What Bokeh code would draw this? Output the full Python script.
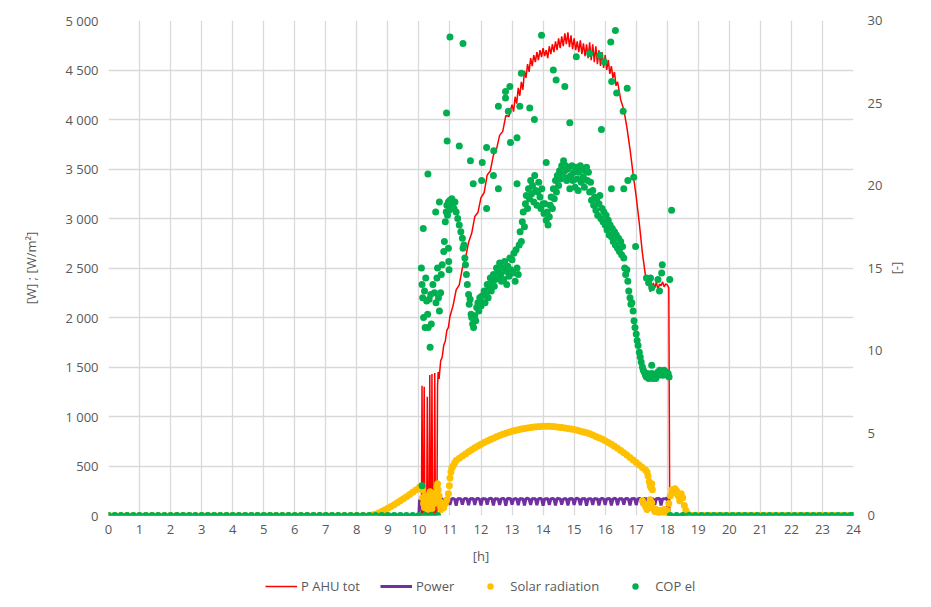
from bokeh.plotting import figure
from bokeh.layouts import column
from bokeh.models import Range1d, LinearAxis, FixedTicker, Legend, LegendItem
from bokeh.embed import file_html
from bokeh.resources import INLINE

# ---------------- data ----------------
hour_ticks = list(range(0, 25))
left_ticks = [0, 500, 1000, 1500, 2000, 2500, 3000, 3500, 4000, 4500, 5000]
left_tick_labels = ["0", "500", "1 000", "1 500", "2 000", "2 500", "3 000", "3 500", "4 000", "4 500", "5 000"]
right_ticks = [0, 5, 10, 15, 20, 25, 30]
series_names = ["P AHU tot", "Power", "Solar radiation", "COP el"]

# P AHU tot [W] (hour, value)
p_ahu_tot = [
    (0.0, 0), (10.0, 0), (10.08, 0), (10.1, 1310), (10.12, 0), (10.15, 0), (10.17, 1300), (10.19, 0),
    (10.25, 0), (10.27, 1200), (10.29, 0), (10.33, 0), (10.35, 1420), (10.37, 0), (10.4, 0), (10.42, 1430),
    (10.44, 0), (10.49, 0), (10.51, 1440), (10.53, 0), (10.58, 0), (10.6, 1300), (10.62, 1450), (10.65, 1380),
    (10.7, 1560), (10.75, 1600), (10.8, 1720), (10.85, 1760), (10.9, 1870), (10.95, 1900), (11.0, 2010),
    (11.1, 2120), (11.2, 2280), (11.3, 2330), (11.4, 2500), (11.5, 2600), (11.6, 2760), (11.7, 2850),
    (11.8, 3020), (11.9, 3060), (12.0, 3210), (12.1, 3260), (12.2, 3440), (12.3, 3480), (12.4, 3640),
    (12.5, 3700), (12.6, 3840), (12.7, 3880), (12.8, 4040), (12.9, 4030),
    (13.0, 4150), (13.05, 4080), (13.1, 4230), (13.15, 4160), (13.2, 4320), (13.25, 4240), (13.3, 4380),
    (13.35, 4300), (13.4, 4490), (13.45, 4420), (13.5, 4560), (13.55, 4480), (13.6, 4620), (13.65, 4540),
    (13.7, 4650), (13.75, 4580), (13.8, 4680), (13.85, 4600), (13.9, 4700), (13.95, 4630), (14.0, 4720),
    (14.05, 4640), (14.1, 4700), (14.15, 4620), (14.2, 4740), (14.25, 4660), (14.3, 4760), (14.35, 4680),
    (14.4, 4790), (14.45, 4700), (14.5, 4820), (14.55, 4720), (14.6, 4840), (14.65, 4740), (14.7, 4870),
    (14.75, 4760), (14.8, 4880), (14.85, 4730), (14.9, 4850), (14.95, 4710), (15.0, 4820), (15.05, 4700),
    (15.1, 4790), (15.15, 4680), (15.2, 4800), (15.25, 4660), (15.3, 4770), (15.35, 4640), (15.4, 4760),
    (15.45, 4620), (15.5, 4780), (15.55, 4600), (15.6, 4760), (15.65, 4580), (15.7, 4740), (15.75, 4560),
    (15.8, 4700), (15.85, 4540), (15.9, 4680), (15.95, 4520), (16.0, 4650), (16.05, 4500), (16.1, 4600),
    (16.15, 4460), (16.2, 4540), (16.25, 4420), (16.3, 4480), (16.35, 4340), (16.4, 4380),
    (16.5, 4200), (16.6, 4100), (16.7, 3920), (16.8, 3700), (16.9, 3450), (17.0, 3220), (17.1, 2950),
    (17.2, 2650), (17.3, 2420), (17.35, 2330), (17.4, 2380), (17.45, 2260), (17.5, 2290), (17.55, 2350),
    (17.6, 2300), (17.65, 2360), (17.7, 2280), (17.75, 2340), (17.8, 2320), (17.85, 2360), (17.9, 2310),
    (17.95, 2340), (18.0, 2330), (18.05, 2300), (18.08, 0), (24.0, 0),
]

# Power [W]
power = [
    (0.0, 0), (10.0, 0), (10.02, 160), (10.05, 60), (10.1, 150), (10.15, 80), (10.2, 140), (10.25, 90),
    (10.3, 150), (10.35, 100), (10.4, 160), (10.45, 90), (10.5, 140), (10.55, 100), (10.6, 160),
    (10.65, 165), (10.70, 172), (10.75, 168), (10.80, 102), (10.85, 170), (10.90, 166), (10.95, 174), (11.00, 108),
    (11.05, 168), (11.10, 171), (11.15, 165), (11.20, 100), (11.25, 172), (11.30, 169), (11.35, 170), (11.40, 110),
    (11.45, 166), (11.50, 173), (11.55, 168), (11.60, 104), (11.65, 171), (11.70, 167), (11.75, 174), (11.80, 106),
    (11.85, 169), (11.90, 172), (11.95, 166), (12.00, 101), (12.05, 173), (12.10, 168), (12.15, 170), (12.20, 109),
    (12.25, 167), (12.30, 174), (12.35, 169), (12.40, 103), (12.45, 172), (12.50, 166), (12.55, 171), (12.60, 107),
    (12.65, 168), (12.70, 173), (12.75, 167), (12.80, 100), (12.85, 174), (12.90, 169), (12.95, 172), (13.00, 110),
    (13.05, 166), (13.10, 171), (13.15, 168), (13.20, 105), (13.25, 173), (13.30, 167), (13.35, 170), (13.40, 102),
    (13.45, 169), (13.50, 174), (13.55, 166), (13.60, 108), (13.65, 172), (13.70, 168), (13.75, 171), (13.80, 104),
    (13.85, 167), (13.90, 173), (13.95, 169), (14.00, 100), (14.05, 171), (14.10, 166), (14.15, 174), (14.20, 107),
    (14.25, 168), (14.30, 172), (14.35, 167), (14.40, 103), (14.45, 174), (14.50, 169), (14.55, 170), (14.60, 109),
    (14.65, 166), (14.70, 171), (14.75, 168), (14.80, 101), (14.85, 173), (14.90, 167), (14.95, 172), (15.00, 106),
    (15.05, 169), (15.10, 174), (15.15, 166), (15.20, 104), (15.25, 171), (15.30, 168), (15.35, 173), (15.40, 100),
    (15.45, 167), (15.50, 170), (15.55, 169), (15.60, 108), (15.65, 174), (15.70, 166), (15.75, 171), (15.80, 103),
    (15.85, 168), (15.90, 172), (15.95, 167), (16.00, 107), (16.05, 170), (16.10, 169), (16.15, 173), (16.20, 101),
    (16.25, 166), (16.30, 174), (16.35, 168), (16.40, 105), (16.45, 172), (16.50, 167), (16.55, 171), (16.60, 110),
    (16.65, 169), (16.70, 173), (16.75, 166), (16.80, 102), (16.85, 171), (16.90, 168), (16.95, 174), (17.00, 106),
    (17.05, 167), (17.10, 172), (17.15, 169), (17.20, 100), (17.25, 173), (17.30, 166), (17.35, 170), (17.40, 104),
    (17.45, 168), (17.50, 171), (17.55, 167), (17.60, 108), (17.65, 172), (17.70, 169), (17.75, 174), (17.80, 103),
    (17.85, 170), (17.90, 168), (17.95, 171), (18.00, 175), (18.02, 0), (24.0, 0),
]

# Solar radiation [W/m2]
solar_day = [
    (8.5, 5), (8.6, 12), (8.7, 25), (8.8, 40), (8.9, 55), (9.0, 72), (9.1, 90), (9.2, 108), (9.3, 128),
    (9.4, 150), (9.5, 170), (9.6, 190), (9.7, 212), (9.8, 235), (9.9, 258), (10.0, 280), (10.05, 295),
    (10.1, 260), (10.12, 180), (10.15, 120), (10.18, 80), (10.2, 200), (10.22, 140), (10.25, 90), (10.28, 60),
    (10.3, 110), (10.33, 180), (10.36, 240), (10.38, 150), (10.4, 100), (10.42, 70), (10.45, 130), (10.48, 200),
    (10.5, 120), (10.52, 170), (10.55, 230), (10.58, 290), (10.6, 320), (10.62, 260), (10.65, 200), (10.68, 140),
    (10.7, 90), (10.72, 60), (10.75, 100), (10.8, 80), (10.85, 120), (10.9, 160), (10.95, 220), (10.98, 300),
    (11.0, 380), (11.03, 440), (11.06, 480),
    (11.1, 500), (11.15, 530), (11.2, 555), (11.3, 578), (11.4, 600), (11.5, 622), (11.6, 645), (11.7, 665),
    (11.8, 685), (11.9, 703), (12.0, 720), (12.1, 737), (12.2, 752), (12.3, 767), (12.4, 781), (12.5, 795),
    (12.6, 808), (12.7, 820), (12.8, 831), (12.9, 841), (13.0, 850), (13.1, 858), (13.2, 866), (13.3, 873),
    (13.4, 879), (13.5, 885), (13.6, 890), (13.7, 894), (13.8, 897), (13.9, 899), (14.0, 901), (14.1, 902),
    (14.2, 901), (14.3, 899), (14.4, 896), (14.5, 892), (14.6, 888), (14.7, 884), (14.8, 879), (14.9, 874),
    (15.0, 868), (15.1, 860), (15.2, 852), (15.3, 844), (15.4, 835), (15.5, 825), (15.6, 812), (15.7, 798),
    (15.8, 785), (15.9, 772), (16.0, 755), (16.1, 738), (16.2, 720), (16.3, 700), (16.4, 680), (16.5, 657),
    (16.6, 635), (16.7, 610), (16.8, 585), (16.9, 560), (17.0, 535), (17.1, 510), (17.2, 485), (17.3, 460),
    (17.35, 440), (17.38, 400), (17.42, 340), (17.45, 300), (17.48, 280), (17.5, 320), (17.52, 260),
    (17.2, 150), (17.25, 120), (17.3, 90), (17.35, 60), (17.4, 110), (17.45, 160), (17.5, 130), (17.55, 70),
    (17.6, 40), (17.65, 60), (17.7, 30), (17.75, 50), (17.8, 20), (17.85, 40), (17.9, 60), (17.95, 30),
    (18.0, 50), (18.05, 120), (18.1, 200), (18.15, 260), (18.2, 230), (18.25, 270), (18.3, 250), (18.35, 200),
    (18.4, 150), (18.45, 220), (18.5, 180), (18.55, 100), (18.6, 50), (18.65, 20), (18.7, 5),
]
solar_night_h = [
    0.0, 0.2, 0.4, 0.6, 0.8, 1.0, 1.2, 1.4, 1.6, 1.8, 2.0, 2.2, 2.4, 2.6, 2.8, 3.0, 3.2, 3.4, 3.6, 3.8,
    4.0, 4.2, 4.4, 4.6, 4.8, 5.0, 5.2, 5.4, 5.6, 5.8, 6.0, 6.2, 6.4, 6.6, 6.8, 7.0, 7.2, 7.4, 7.6, 7.8,
    8.0, 8.2, 8.4,
    18.8, 19.0, 19.2, 19.4, 19.6, 19.8, 20.0, 20.2, 20.4, 20.6, 20.8, 21.0, 21.2, 21.4, 21.6, 21.8,
    22.0, 22.2, 22.4, 22.6, 22.8, 23.0, 23.2, 23.4, 23.6, 23.8, 24.0,
]

# COP el [-]  (right axis)
cop_band = [
    (10.08, 15.0), (10.1, 14.0), (10.12, 13.2), (10.15, 12.0), (10.18, 13.6), (10.2, 11.4), (10.22, 14.4),
    (10.25, 13.0), (10.28, 12.2), (10.3, 11.4), (10.33, 13.1), (10.36, 10.2), (10.38, 13.4), (10.4, 11.6),
    (10.45, 14.0), (10.5, 13.5), (10.55, 12.9), (10.58, 14.4), (10.6, 15.0), (10.63, 13.2), (10.66, 12.4),
    (10.7, 13.5), (10.72, 14.6), (10.75, 15.2), (10.8, 16.0), (10.82, 16.6), (10.85, 17.8), (10.88, 18.4),
    (10.9, 18.8), (10.92, 18.2), (10.95, 19.0), (10.98, 18.5), (11.0, 19.1), (11.03, 18.7), (11.06, 19.2),
    (11.1, 18.9), (11.13, 18.6), (11.16, 19.0), (11.2, 18.4), (11.25, 18.0), (11.3, 17.6), (11.35, 17.2),
    (11.4, 16.8), (11.42, 16.2), (11.45, 16.4), (11.48, 15.6), (11.5, 15.2), (11.53, 14.6), (11.56, 14.0),
    (11.6, 13.4), (11.62, 12.8), (11.65, 13.1), (11.68, 12.2), (11.7, 12.0), (11.73, 11.6), (11.76, 11.4),
    (11.8, 12.1), (11.83, 11.8), (11.86, 12.6), (11.9, 12.9), (11.93, 12.4), (11.96, 13.2), (12.0, 12.7),
    (12.03, 13.3), (12.06, 12.9), (12.1, 13.6), (12.13, 12.9), (12.16, 13.4), (12.2, 14.0), (12.23, 13.2),
    (12.26, 13.8), (12.3, 14.4), (12.33, 13.6), (12.36, 14.1), (12.4, 14.6), (12.43, 13.9), (12.46, 14.3),
    (12.5, 15.0), (12.53, 14.4), (12.56, 14.8), (12.6, 15.3), (12.63, 14.6), (12.66, 14.2), (12.7, 15.0),
    (12.73, 14.3), (12.76, 15.4), (12.8, 14.8), (12.83, 14.0), (12.86, 15.1), (12.9, 14.5), (12.93, 15.6),
    (12.96, 14.9), (13.0, 15.5), (13.03, 14.7), (13.06, 15.9), (13.1, 14.2), (13.13, 16.1), (13.16, 15.0),
    (13.2, 14.6), (13.23, 16.4), (13.26, 17.2), (13.3, 16.6), (13.33, 17.8), (13.36, 18.4), (13.4, 17.5),
    (13.43, 18.9), (13.46, 19.4), (13.5, 18.6), (13.53, 19.8), (13.56, 19.2), (13.6, 20.3), (13.63, 19.5),
    (13.66, 20.0), (13.7, 19.0), (13.73, 20.6), (13.76, 19.7), (13.8, 18.8), (13.83, 19.6), (13.86, 20.2),
    (13.9, 19.3), (13.93, 18.6), (13.96, 19.8), (14.0, 18.9), (14.03, 18.3), (14.06, 18.9), (14.1, 17.9),
    (14.13, 18.4), (14.16, 17.6), (14.2, 18.1), (14.23, 18.8), (14.26, 19.3), (14.3, 18.6), (14.33, 19.8),
    (14.36, 19.2), (14.4, 20.3), (14.43, 19.6), (14.46, 20.6), (14.5, 20.0), (14.53, 20.9), (14.56, 20.4),
    (14.6, 21.2), (14.63, 20.6), (14.66, 21.5), (14.7, 20.9), (14.73, 21.2), (14.76, 20.3), (14.8, 21.0),
    (14.83, 20.5), (14.86, 19.8), (14.9, 20.6), (14.93, 21.2), (14.96, 20.3), (15.0, 20.8), (15.03, 19.9),
    (15.06, 21.1), (15.1, 20.4), (15.13, 19.7), (15.16, 20.8), (15.2, 21.2), (15.23, 20.2), (15.26, 21.0),
    (15.3, 20.5), (15.33, 19.9), (15.36, 20.9), (15.4, 21.1), (15.43, 20.3), (15.46, 20.8), (15.5, 19.6),
    (15.53, 20.2), (15.56, 19.1), (15.6, 19.7), (15.63, 18.8), (15.66, 19.3), (15.7, 18.5), (15.73, 19.2),
    (15.76, 18.2), (15.8, 18.9), (15.83, 19.4), (15.86, 18.0), (15.9, 18.6), (15.93, 17.8), (15.96, 18.4),
    (16.0, 17.6), (16.03, 18.2), (16.06, 17.3), (16.1, 17.9), (16.13, 17.0), (16.16, 17.6), (16.2, 16.9),
    (16.23, 17.4), (16.26, 16.6), (16.3, 17.2), (16.33, 16.4), (16.36, 17.0), (16.4, 16.2), (16.43, 16.8),
    (16.46, 16.0), (16.5, 16.6), (16.53, 15.8), (16.56, 16.3), (16.6, 15.6), (16.63, 15.0), (16.66, 14.6),
    (16.7, 14.9), (16.73, 14.2), (16.76, 13.6), (16.8, 13.2), (16.83, 12.8), (16.86, 12.9), (16.9, 12.4),
    (16.93, 11.8), (16.96, 11.4), (17.0, 11.0), (17.03, 10.6), (17.06, 10.3), (17.1, 9.9), (17.13, 9.6),
    (17.16, 9.3), (17.2, 9.0), (17.23, 8.8), (17.26, 8.7), (17.3, 8.5), (17.33, 8.4), (17.36, 8.6),
    (17.4, 8.3), (17.43, 8.5), (17.46, 8.4), (17.5, 8.6), (17.53, 8.3), (17.56, 8.5), (17.6, 8.4),
    (17.63, 8.3), (17.66, 8.6), (17.7, 8.7), (17.73, 8.5), (17.76, 8.8), (17.8, 8.6), (17.83, 8.7),
    (17.86, 8.5), (17.9, 8.8), (17.93, 8.6), (17.96, 8.7), (18.0, 8.5), (18.03, 8.6), (18.06, 8.4),
]
cop_scatter = [
    (10.1, 1.8), (10.14, 17.4), (10.29, 20.7), (10.54, 18.4), (10.66, 19.0), (10.89, 24.4), (10.91, 22.7),
    (10.95, 16.2), (10.96, 15.4), (10.97, 14.9), (11.0, 29.0), (11.42, 28.6), (11.3, 22.4), (11.66, 21.5),
    (11.75, 20.1), (12.02, 20.3), (12.04, 21.4), (12.18, 22.3), (12.18, 18.6), (12.4, 20.6), (12.41, 22.1),
    (12.56, 24.8), (12.56, 19.8), (12.79, 25.3), (12.79, 25.7), (12.88, 24.5), (12.93, 26.0), (12.95, 22.6),
    (13.16, 22.9), (13.16, 20.1), (13.25, 24.8), (13.3, 26.8), (13.57, 24.7), (13.72, 24.0), (13.95, 29.1),
    (14.1, 21.4), (14.33, 27.0), (14.42, 26.4), (14.7, 26.0), (14.86, 23.8), (15.07, 27.8), (15.5, 28.0),
    (15.83, 27.9), (15.88, 23.4), (15.97, 27.5), (16.18, 28.7), (16.2, 19.8), (16.21, 26.3), (16.33, 29.4),
    (16.37, 25.6), (16.58, 24.5), (16.6, 19.8), (16.71, 25.9), (16.73, 20.3), (16.92, 20.5), (16.98, 16.3),
    (17.33, 14.4), (17.4, 14.1), (17.46, 14.4), (17.5, 13.8), (17.5, 9.1), (17.7, 14.3), (17.75, 13.6),
    (17.82, 14.7), (17.84, 15.2), (18.08, 14.3), (18.14, 18.5),
]
cop_night_h = [
    0.0, 0.2, 0.4, 0.6, 0.8, 1.0, 1.2, 1.4, 1.6, 1.8, 2.0, 2.2, 2.4, 2.6, 2.8, 3.0, 3.2, 3.4, 3.6, 3.8,
    4.0, 4.2, 4.4, 4.6, 4.8, 5.0, 5.2, 5.4, 5.6, 5.8, 6.0, 6.2, 6.4, 6.6, 6.8, 7.0, 7.2, 7.4, 7.6, 7.8,
    8.0, 8.2, 8.4, 8.6, 8.8, 9.0, 9.2, 9.4, 9.6, 9.8, 10.0, 10.2, 10.4, 10.6,
    18.1, 18.3, 18.5, 18.7, 18.9, 19.1, 19.3, 19.5, 19.7, 19.9, 20.1, 20.3, 20.5, 20.7, 20.9,
    21.1, 21.3, 21.5, 21.7, 21.9, 22.1, 22.3, 22.5, 22.7, 22.9, 23.1, 23.3, 23.5, 23.7, 23.9, 24.0,
]

# ---------------- styling ----------------
FONT = "Open Sans"
TXT = "#595959"
GRID = "#D9D9D9"
C_AHU = "#FF0000"
C_POW = "#7030A0"
C_SOL = "#FFC000"
C_COP = "#00B050"

p = figure(
    width=931, height=572, frame_width=745, frame_height=495,
    x_range=Range1d(0, 24), y_range=Range1d(0, 5000),
    output_backend="svg", toolbar_location=None,
    min_border_left=108, min_border_right=78, min_border_top=20, min_border_bottom=57,
)
p.extra_y_ranges = {"cop": Range1d(0, 30)}
p.outline_line_color = None
p.background_fill_color = "white"
p.border_fill_color = "white"

def style_axis(ax):
    ax.axis_line_color = None
    ax.major_tick_line_color = None
    ax.minor_tick_line_color = None
    ax.major_tick_out = 0
    ax.major_tick_in = 0
    ax.minor_tick_out = 0
    ax.major_label_text_font = FONT
    ax.major_label_text_font_size = "13px"
    ax.major_label_text_color = TXT
    ax.axis_label_text_font = FONT
    ax.axis_label_text_font_size = "13px"
    ax.axis_label_text_font_style = "normal"
    ax.axis_label_text_color = TXT

xa = p.xaxis[0]
style_axis(xa)
xa.ticker = FixedTicker(ticks=hour_ticks)
xa.axis_label = "[h]"
xa.major_label_standoff = 9
xa.axis_label_standoff = 10

ya = p.yaxis[0]
style_axis(ya)
ya.ticker = FixedTicker(ticks=left_ticks)
ya.major_label_overrides = {float(t): s for t, s in zip(left_ticks, left_tick_labels)}
ya.axis_label = "[W] ; [W/m²]"
ya.major_label_standoff = 10
ya.axis_label_standoff = 22

ra = LinearAxis(y_range_name="cop", ticker=FixedTicker(ticks=right_ticks), axis_label="[-]")
style_axis(ra)
ra.major_label_standoff = 14
ra.axis_label_standoff = 5
p.add_layout(ra, "right")

p.xgrid.ticker = FixedTicker(ticks=hour_ticks)
p.ygrid.ticker = FixedTicker(ticks=left_ticks)
for g in (p.xgrid[0], p.ygrid[0]):
    g.grid_line_color = GRID
    g.grid_line_width = 1.3

def split(pairs):
    return [a for a, _ in pairs], [b for _, b in pairs]

ahu_h, ahu_v = split(p_ahu_tot)
pow_h, pow_v = split(power)
sol_h, sol_v = split(solar_day)
cb_h, cb_v = split(cop_band)
cs_h, cs_v = split(cop_scatter)

p.line(ahu_h, ahu_v, line_color=C_AHU, line_width=1.5)
p.line(pow_h, pow_v, line_color=C_POW, line_width=3)
p.scatter(solar_night_h, [0] * len(solar_night_h), size=7, fill_color=C_SOL, line_color=None)
p.scatter(sol_h, sol_v, size=7, fill_color=C_SOL, line_color=None)
p.scatter(cop_night_h, [0] * len(cop_night_h), size=7, fill_color=C_COP, line_color=None, y_range_name="cop")
p.scatter(cb_h + cs_h, cb_v + cs_v, size=7, fill_color=C_COP, line_color=None, y_range_name="cop")

# ---------------- legend strip (key swatches only; their single point lies outside the strip's range) ----------------
lg = figure(
    width=931, height=30, x_range=Range1d(0, 1), y_range=Range1d(0, 1),
    output_backend="svg", toolbar_location=None,
    x_axis_location=None, y_axis_location=None,
    min_border_left=0, min_border_right=0, min_border_top=0, min_border_bottom=0,
)
lg.outline_line_color = None
lg.xgrid.visible = False
lg.ygrid.visible = False
off = [-5.0]
k_ahu = lg.line(off, off, line_color=C_AHU, line_width=1.5)
k_pow = lg.line(off, off, line_color=C_POW, line_width=3)
k_sol = lg.scatter(off, off, size=7, fill_color=C_SOL, line_color=None)
k_cop = lg.scatter(off, off, size=7, fill_color=C_COP, line_color=None)

legend = Legend(
    items=[LegendItem(label=n, renderers=[r]) for n, r in zip(series_names, [k_ahu, k_pow, k_sol, k_cop])],
    orientation="horizontal", location=(157, 7),
    border_line_color=None, background_fill_alpha=0,
    label_text_font=FONT, label_text_font_size="13px", label_text_color=TXT,
    glyph_width=32, glyph_height=16, label_height=16, label_standoff=4, spacing=20,
    padding=0, margin=0,
)
lg.add_layout(legend, "center")

open("out.html", "w").write(file_html(column(p, lg, spacing=0), INLINE))
